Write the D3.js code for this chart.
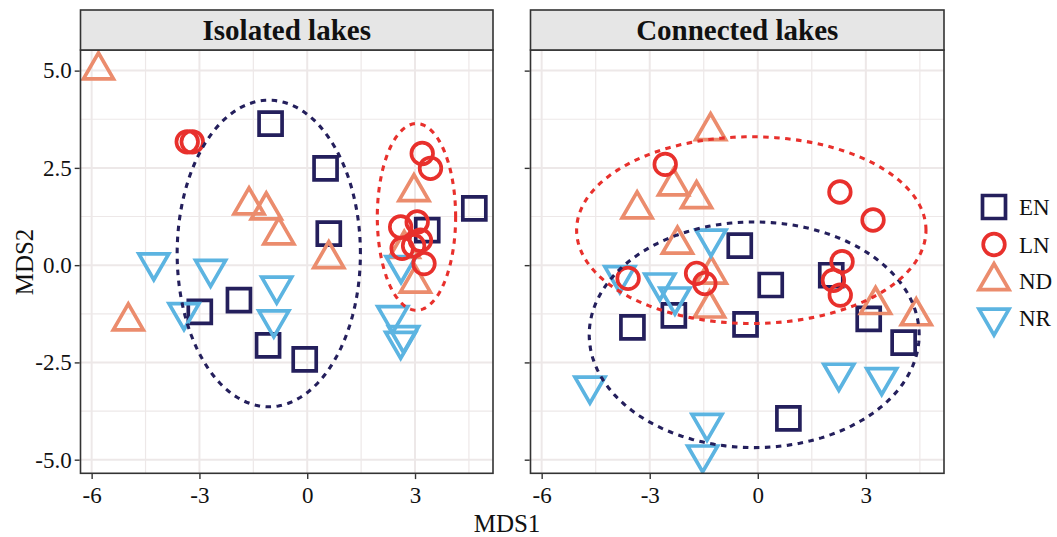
<!DOCTYPE html>
<html>
<head>
<meta charset="utf-8">
<script src="https://cdn.jsdelivr.net/npm/d3@7"></script>
<style>
  body { margin: 0; background: #fff; }
  svg { display: block; }
  text { font-family: "Liberation Serif", "Times New Roman", serif; }
</style>
</head>
<body>
<svg id="chart" width="1057" height="537"></svg>
<script>
// ---- data -------------------------------------------------------------
const panelTitles = ["Isolated lakes", "Connected lakes"];
const groups = ["EN", "LN", "ND", "NR"];
const groupColors = ["#241F5C", "#E8302C", "#EB8C6D", "#5CB4E1"];

const xTicks = [-6, -3, 0, 3];
const xTickLabels = ["-6", "-3", "0", "3"];
const yTicks = [-5, -2.5, 0, 2.5, 5];
const yTickLabels = ["-5.0", "-2.5", "0.0", "2.5", "5.0"];
const xMinor = [-4.5, -1.5, 1.5, 4.5];
const yMinor = [-3.75, -1.25, 1.25, 3.75];

// MDS scores, isolated lakes
const isolatedEN = [[-1.02, 3.64], [0.51, 2.49], [0.6, 0.81], [3.34, 0.9], [4.65, 1.46],
                    [-2.99, -1.2], [-1.9, -0.9], [-1.09, -2.06], [-0.07, -2.42]];
const isolatedLN = [[-3.34, 3.17], [-3.2, 3.17], [3.2, 2.87], [3.43, 2.49], [2.6, 0.98],
                    [3.06, 1.11], [2.64, 0.43], [3.15, 0.64], [3.25, 0.04], [2.96, 0.5]];
const isolatedND = [[-5.81, 5.01], [-1.62, 1.54], [-1.14, 1.41], [-0.79, 0.77], [0.6, 0.16],
                    [-4.98, -1.44], [2.97, 1.88], [2.7, 0.42], [3.01, -0.47]];
const isolatedNR = [[-4.27, 0.07], [-2.69, -0.1], [-3.43, -1.21], [-0.85, -0.53], [-0.93, -1.4],
                    [2.61, 0.0], [2.38, -1.29], [2.68, -1.8], [2.6, -1.95]];

// MDS scores, connected lakes
const connectedEN = [[-0.5, 0.5], [2.04, -0.26], [0.36, -0.51], [-3.48, -1.6], [-2.33, -1.29],
                     [-0.34, -1.52], [3.08, -1.38], [4.05, -1.99], [0.85, -3.94]];
const connectedLN = [[-2.57, 2.59], [2.28, 1.88], [3.2, 1.16], [2.34, 0.09], [2.1, -0.39],
                     [2.29, -0.77], [-3.6, -0.34], [-1.7, -0.21], [-1.47, -0.47]];
const connectedND = [[-1.31, 3.45], [-2.34, 2.03], [-1.7, 1.7], [-3.35, 1.44], [-2.23, 0.53],
                     [-1.29, -0.24], [-1.34, -1.11], [3.27, -1.02], [4.4, -1.31]];
const connectedNR = [[-1.3, 0.68], [-3.83, -0.26], [-2.72, -0.45], [-2.3, -0.81], [-4.66, -3.1],
                     [2.25, -2.77], [3.44, -2.88], [-1.41, -4.06], [-1.53, -4.87]];

// confidence ellipses: [centre x, centre y, semi-axis x, semi-axis y]
const isolatedEllipseEN = [-1.07, 0.30, 2.55, 3.94];
const isolatedEllipseLN = [3.04, 1.24, 1.09, 2.40];
const connectedEllipseEN = [-0.10, -1.79, 4.58, 2.90];
const connectedEllipseLN = [-0.18, 0.90, 4.85, 2.40];

// ---- layout -----------------------------------------------------------
const svg = d3.select("#chart");
svg.append("rect").attr("width", 1057).attr("height", 537).attr("fill", "#fff");

const panelTop = 50, panelBottom = 473.3, stripTop = 10;
const panelX = [[80.5, 493], [530.5, 944]];
const xDomain = [-6.31, 5.17];
const yDomain = [-5.35, 5.53];
const y = d3.scaleLinear().domain(yDomain).range([panelBottom, panelTop]);

const panelData = [
  { points: [isolatedEN, isolatedLN, isolatedND, isolatedNR],
    ellipses: [[isolatedEllipseEN, 0], [isolatedEllipseLN, 1]] },
  { points: [connectedEN, connectedLN, connectedND, connectedNR],
    ellipses: [[connectedEllipseEN, 0], [connectedEllipseLN, 1]] }
];

const gridColor = "#EDE8E8";
const frameColor = "#333333";
const textColor = "#111111";
const strokeW = 3.7;

// marker outlines centred on (0,0)
function markerPath(gi) {
  const s = 11.5, r = 17.3, h = 15;
  if (gi === 0) return `M${-s},${-s}H${s}V${s}H${-s}Z`;
  if (gi === 1) {
    const c = 10.8;
    return `M${-c},0A${c},${c} 0 1,0 ${c},0A${c},${c} 0 1,0 ${-c},0Z`;
  }
  if (gi === 2) return `M0,${-r}L${h},${r / 2}L${-h},${r / 2}Z`;
  return `M0,${r}L${h},${-r / 2}L${-h},${-r / 2}Z`;
}

const drawOrder = [0, 2, 3, 1];

panelData.forEach((pd, pi) => {
  const [x0, x1] = panelX[pi];
  const x = d3.scaleLinear().domain(xDomain).range([x0, x1]);
  const g = svg.append("g");

  // grid
  const grid = g.append("g");
  grid.selectAll(".vmin").data(xMinor).join("line")
    .attr("x1", d => x(d)).attr("x2", d => x(d))
    .attr("y1", panelTop).attr("y2", panelBottom)
    .attr("stroke", gridColor).attr("stroke-width", 1.2);
  grid.selectAll(".hmin").data(yMinor).join("line")
    .attr("y1", d => y(d)).attr("y2", d => y(d))
    .attr("x1", x0).attr("x2", x1)
    .attr("stroke", gridColor).attr("stroke-width", 1.2);
  grid.selectAll(".vmaj").data(xTicks).join("line")
    .attr("x1", d => x(d)).attr("x2", d => x(d))
    .attr("y1", panelTop).attr("y2", panelBottom)
    .attr("stroke", gridColor).attr("stroke-width", 2);
  grid.selectAll(".hmaj").data(yTicks).join("line")
    .attr("y1", d => y(d)).attr("y2", d => y(d))
    .attr("x1", x0).attr("x2", x1)
    .attr("stroke", gridColor).attr("stroke-width", 2);

  // clip to the panel
  const clipId = "clip" + pi;
  svg.append("clipPath").attr("id", clipId)
    .append("rect").attr("x", x0).attr("y", panelTop)
    .attr("width", x1 - x0).attr("height", panelBottom - panelTop);
  const plot = g.append("g").attr("clip-path", `url(#${clipId})`);

  // points
  drawOrder.forEach(gi => {
    plot.append("g").selectAll("path").data(pd.points[gi]).join("path")
      .attr("transform", d => `translate(${x(d[0])},${y(d[1])})`)
      .attr("d", markerPath(gi))
      .attr("fill", "none")
      .attr("stroke", groupColors[gi])
      .attr("stroke-width", strokeW)
      .attr("stroke-linejoin", "miter");
  });

  // dotted ellipses
  const line = d3.line().x(d => x(d[0])).y(d => y(d[1])).curve(d3.curveLinearClosed);
  pd.ellipses.forEach(([e, gi]) => {
    const pts = d3.range(0, 2 * Math.PI, Math.PI / 90)
      .map(t => [e[0] + e[2] * Math.cos(t), e[1] + e[3] * Math.sin(t)]);
    plot.append("path").attr("d", line(pts))
      .attr("fill", "none")
      .attr("stroke", groupColors[gi])
      .attr("stroke-width", 3.1)
      .attr("stroke-dasharray", "5.5 5.5");
  });

  // panel border
  g.append("rect").attr("x", x0).attr("y", panelTop)
    .attr("width", x1 - x0).attr("height", panelBottom - panelTop)
    .attr("fill", "none").attr("stroke", frameColor).attr("stroke-width", 1.6);

  // strip
  g.append("rect").attr("x", x0).attr("y", stripTop)
    .attr("width", x1 - x0).attr("height", panelTop - stripTop)
    .attr("fill", "#E6E6E6").attr("stroke", frameColor).attr("stroke-width", 1.6);
  g.append("text").attr("x", (x0 + x1) / 2).attr("y", 39.5)
    .attr("text-anchor", "middle").attr("font-weight", "bold")
    .attr("font-size", 29).attr("fill", textColor)
    .text(panelTitles[pi]);

  // axes
  const yAxis = d3.axisLeft(y).tickValues(yTicks).tickSize(5).tickPadding(3)
    .tickFormat((d, i) => pi === 0 ? yTickLabels[i] : "");
  const ya = g.append("g").attr("transform", `translate(${x0 - 0.8},0)`).call(yAxis);
  const xAxis = d3.axisBottom(x).tickValues(xTicks).tickSize(5).tickPadding(8)
    .tickFormat((d, i) => xTickLabels[i]);
  const xa = g.append("g").attr("transform", `translate(0,${panelBottom + 0.8})`).call(xAxis);
  [ya, xa].forEach(a => {
    a.select(".domain").remove();
    a.selectAll(".tick line").attr("stroke", frameColor).attr("stroke-width", 1.4);
    a.selectAll(".tick text").attr("font-size", 23).attr("fill", textColor)
      .attr("font-family", "Liberation Serif, Times New Roman, serif");
  });
});

// axis titles
svg.append("text").attr("x", 507).attr("y", 532)
  .attr("text-anchor", "middle").attr("font-size", 25).attr("fill", textColor)
  .text("MDS1");
svg.append("text").attr("transform", "translate(33,262) rotate(-90)")
  .attr("text-anchor", "middle").attr("font-size", 25).attr("fill", textColor)
  .text("MDS2");

// legend
const legendY = [207, 244.5, 281, 317.8];
const legend = svg.append("g");
groups.forEach((name, gi) => {
  legend.append("path")
    .attr("transform", `translate(994,${legendY[gi]})`)
    .attr("d", markerPath(gi))
    .attr("fill", "none").attr("stroke", groupColors[gi])
    .attr("stroke-width", strokeW);
  legend.append("text").attr("x", 1019).attr("y", legendY[gi]).attr("dy", "0.35em")
    .attr("font-size", 23).attr("fill", textColor).text(name);
});
</script>
</body>
</html>
